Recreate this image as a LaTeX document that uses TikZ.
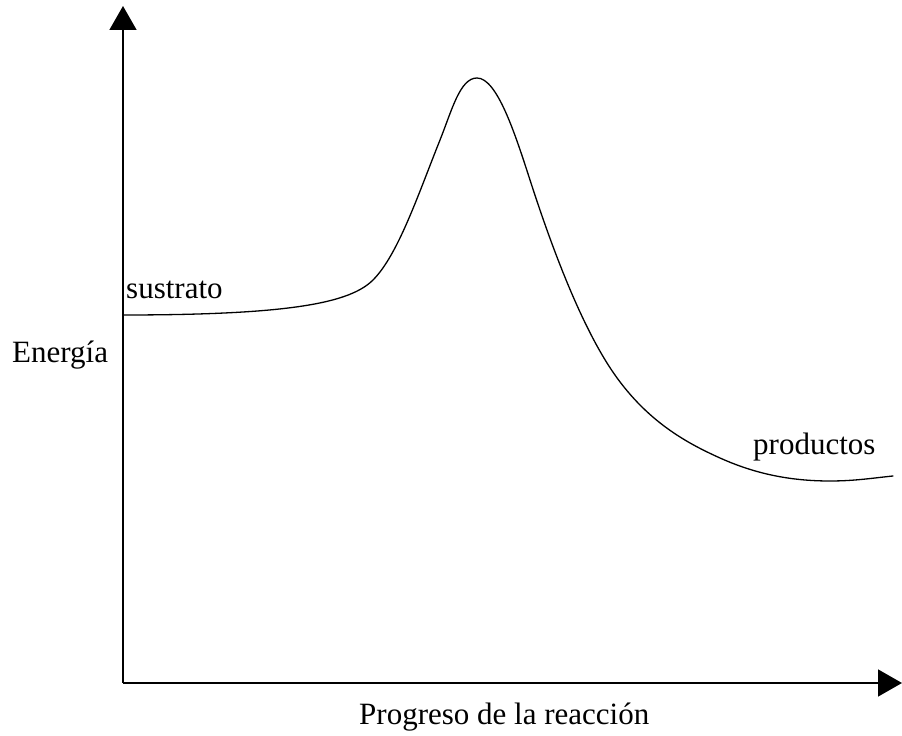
\documentclass[tikz,border=0pt]{standalone}
\usepackage{fontspec}
\setmainfont{Liberation Serif}
\usetikzlibrary{arrows.meta}
\begin{document}
\begin{tikzpicture}[x=1pt,y=1pt,
  axisline/.style={line width=1.5pt,-{Triangle[length=24pt,width=27pt]}},
  curveline/.style={line width=1.3pt,line cap=round,line join=round},
  lbl/.style={anchor=base west,inner sep=0pt,font=\fontsize{31}{37}\selectfont}]
\useasboundingbox (0,0) rectangle (902,736);
\coordinate (O) at (123,53);
\coordinate (ytop) at (123,730);
\coordinate (xend) at (902,53);
\draw[axisline] (O) -- (ytop);
\draw[axisline] (O) -- (xend);
\coordinate (j0) at (123,421);
\coordinate (j1) at (373,456);
\coordinate (j2) at (440,596);
\coordinate (j3) at (477,658);
\coordinate (j4) at (530,556);
\coordinate (j5) at (607,373);
\coordinate (j6) at (720,278);
\coordinate (j7) at (830,255);
\coordinate (j8) at (893,260);
\draw[curveline] (j0)
  .. controls (290,421) and (350,433) .. (j1)
  .. controls (398,481) and (418,541) .. (j2)
  .. controls (452,626) and (460,658) .. (j3)
  .. controls (497,658) and (515,602.5) .. (j4)
  .. controls (550,494) and (577,421) .. (j5)
  .. controls (642,317) and (685,293.75) .. (j6)
  .. controls (755,262.25) and (790,255) .. (j7)
  .. controls (855,255) and (873,258) .. (j8);
\node[lbl] (sus) at (126,437) {sustrato};
\node[lbl] (ene) at (12,373) {Energía};
\node[lbl] (pro) at (753,281) {productos};
\node[lbl] (prog) at (359,11) {Progreso de la reacción};
\end{tikzpicture}
\end{document}
